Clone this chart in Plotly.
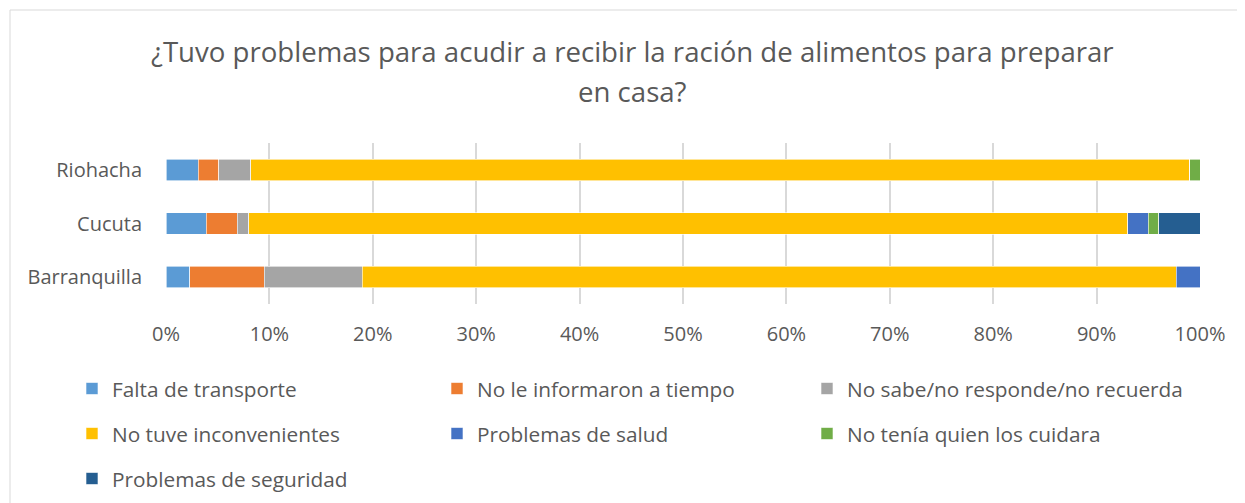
import plotly.graph_objects as go

cities = ["Barranquilla", "Cucuta", "Riohacha"]
series_names = [
    "Falta de transporte",
    "No le informaron a tiempo",
    "No sabe/no responde/no recuerda",
    "No tuve inconvenientes",
    "Problemas de salud",
    "No tenía quien los cuidara",
    "Problemas de seguridad",
]
falta_transporte = [2.3, 3.9, 3.1]
no_informaron = [7.2, 3.0, 2.0]
no_sabe = [9.5, 1.1, 3.1]
no_inconvenientes = [78.7, 85.0, 90.8]
problemas_salud = [2.3, 2.0, 0.0]
no_cuidara = [0.0, 1.0, 1.0]
problemas_seguridad = [0.0, 4.0, 0.0]
series_values = [falta_transporte, no_informaron, no_sabe, no_inconvenientes,
                 problemas_salud, no_cuidara, problemas_seguridad]
colors = ["#5B9BD5", "#ED7D31", "#A5A5A5", "#FFC000", "#4472C4", "#70AD47", "#255E91"]
tick_vals = list(range(0, 101, 10))
tick_text = [f"{v}%" for v in tick_vals]

FONT = "Open Sans"
GREY = "#595959"

# page offset of the figure in the screenshot (body margin)
OFF = 8
W, H = 1245, 503
# plot area in screenshot pixels
PL, PR, PT, PB = 166, 1200, 143, 304
L = PL - OFF
T = PT - OFF
R = W - (PR - OFF)
B = H - (PB - OFF)
ph = PB - PT
pw = PR - PL


def py(pix):
    return (PB - pix) / ph


def px(pix):
    return (pix - PL) / pw


# legend grid positions (screenshot pixels) for each entry
col_x = [72, 437, 807]
row_y = [389, 434, 479]
legend_ids = ["legend" if i == 0 else f"legend{i + 1}" for i in range(len(series_names))]

fig = go.Figure()
for i, (name, vals, col) in enumerate(zip(series_names, series_values, colors)):
    fig.add_trace(go.Bar(
        name=name, y=cities, x=vals, orientation="h",
        marker=dict(color=col, line=dict(width=0.6, color="white")),
        legend=legend_ids[i],
    ))

legends = {}
for i, lid in enumerate(legend_ids):
    legends[lid] = dict(
        orientation="h", x=px(col_x[i % 3]), y=py(row_y[i // 3]),
        xanchor="left", yanchor="middle", bgcolor="rgba(0,0,0,0)",
        font=dict(family=FONT, size=20.8, color=GREY),
    )

fig.update_layout(
    width=W, height=H,
    margin=dict(l=L, r=R, t=T, b=B, autoexpand=False),
    barmode="stack", bargap=0.6,
    plot_bgcolor="white", paper_bgcolor="white",
    font=dict(family=FONT, color=GREY, size=20),
    xaxis=dict(range=[0, 100], tickvals=tick_vals, ticktext=tick_text,
               showgrid=True, gridcolor="#D9D9D9", gridwidth=2,
               zeroline=False, showline=False, ticks="",
               ticklabelstandoff=16,
               tickfont=dict(family=FONT, size=20, color=GREY)),
    yaxis=dict(showgrid=False, zeroline=False, showline=False, ticks="",
               ticklabelstandoff=23,
               tickfont=dict(family=FONT, size=20, color=GREY)),
    showlegend=True,
    annotations=[
        dict(text="¿Tuvo problemas para acudir a recibir la ración de alimentos para preparar",
             xref="paper", yref="paper", x=px(632), y=py(51), showarrow=False,
             xanchor="center", yanchor="middle",
             font=dict(family=FONT, size=27.6, color=GREY)),
        dict(text="en casa?",
             xref="paper", yref="paper", x=px(632), y=py(91), showarrow=False,
             xanchor="center", yanchor="middle",
             font=dict(family=FONT, size=27.6, color=GREY)),
    ],
    shapes=[dict(type="rect", xref="paper", yref="paper",
                 x0=px(10), x1=px(1260), y0=py(520), y1=py(10),
                 line=dict(color="#D9D9D9", width=1), layer="below")],
    **legends,
)

fig.write_html("out.html")
